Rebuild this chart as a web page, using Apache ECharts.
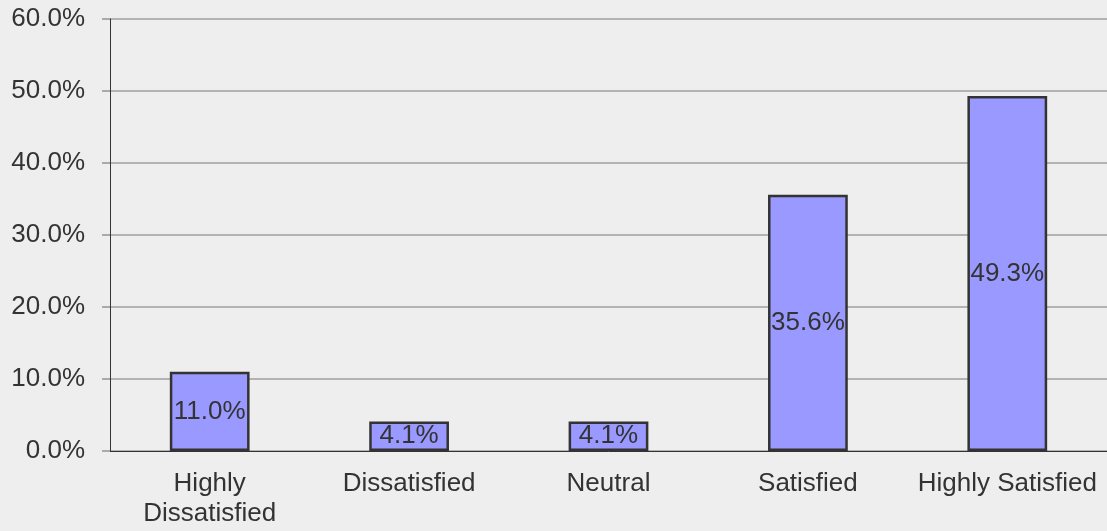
<!DOCTYPE html>
<html lang="en">
<head>
  <meta charset="UTF-8">
  <title>Satisfaction</title>
  <script src="https://cdn.jsdelivr.net/npm/echarts@6/dist/echarts.min.js"></script>
  <style>
    html, body { margin: 0; padding: 0; background: #eeeeee; }
    #chart { width: 1107px; height: 531px; }
  </style>
</head>
<body>
  <div id="chart"></div>
  <script>
    // data
    var categories = ['Highly\nDissatisfied', 'Dissatisfied', 'Neutral', 'Satisfied', 'Highly Satisfied']
    var shares = [11.0, 4.1, 4.1, 35.6, 49.3]
    var yTicks = [0, 10, 20, 30, 40, 50, 60]

    var chart = echarts.init(document.getElementById('chart'))
    var font = 'Liberation Sans, Arial, sans-serif'

    chart.setOption({
      backgroundColor: '#eeeeee',
      animation: false,
      grid: { left: 110, right: 0, top: 19, bottom: 80 },
      xAxis: {
        type: 'category',
        data: categories,
        axisLine: { lineStyle: { color: '#333', width: 1 } },
        axisTick: { length: 8, lineStyle: { color: '#888' } },
        axisLabel: {
          color: '#333', fontSize: 26, fontFamily: font,
          margin: 18, lineHeight: 30, interval: 0
        }
      },
      yAxis: {
        type: 'value',
        min: yTicks[0],
        max: yTicks[yTicks.length - 1],
        interval: 10,
        axisLine: { show: true, lineStyle: { color: '#333', width: 1 } },
        axisTick: { show: true, length: 8, lineStyle: { color: '#aaa', width: 2 } },
        splitLine: { lineStyle: { color: '#b3b3b3', width: 2 } },
        axisLabel: {
          color: '#333', fontSize: 26, fontFamily: font, margin: 25,
          formatter: function (v) { return v.toFixed(1) + '%' }
        }
      },
      series: [{
        type: 'bar',
        data: shares,
        barWidth: '40%',
        itemStyle: { color: '#9999ff', borderColor: '#333', borderWidth: 2.5 },
        label: {
          show: true,
          position: 'inside',
          color: '#333',
          fontSize: 26,
          fontFamily: font,
          formatter: function (p) { return p.value.toFixed(1) + '%' }
        }
      }]
    })
  </script>
</body>
</html>
